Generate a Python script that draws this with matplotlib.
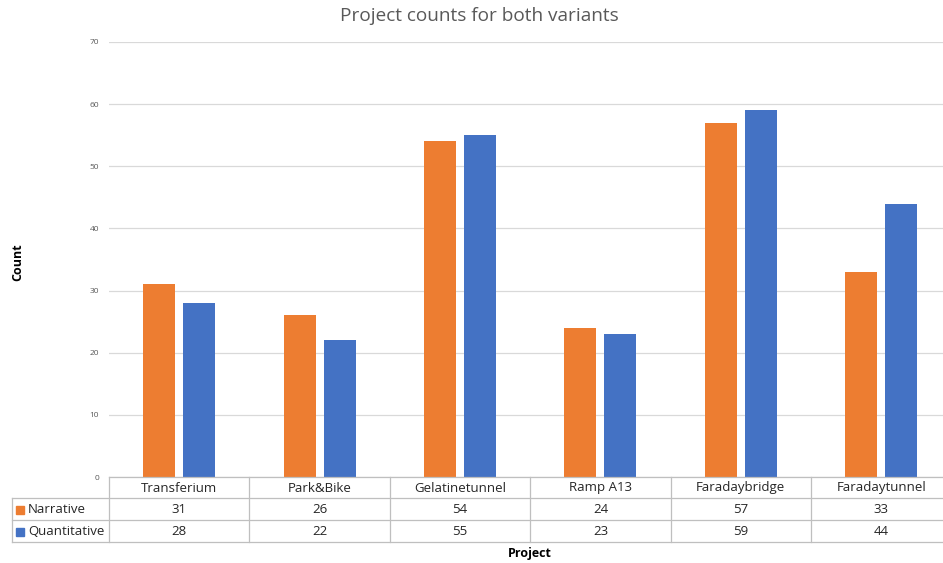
import numpy as np
import matplotlib
matplotlib.use('Agg')
import matplotlib.pyplot as plt

### data ----

projects = ['Transferium', 'Park&Bike', 'Gelatinetunnel', 'Ramp A13',
            'Faradaybridge', 'Faradaytunnel']
narrative = [31, 26, 54, 24, 57, 33]
quantitative = [28, 22, 55, 23, 59, 44]
series_names = ['Narrative', 'Quantitative']
colors = ['#ED7D31', '#4472C4']

plt.rcParams['font.family'] = ['Open Sans', 'DejaVu Sans']

W, H = 943, 563
cell_w = 140.4
x_left = 109
x_right = x_left + cell_w * len(projects)  # runs a bit past the image edge

fig = plt.figure(figsize=(W / 100, H / 100), dpi=100)
ax = fig.add_axes([x_left / W, 1 - 477 / H, (x_right - x_left) / W, (477 - 42) / H])

x = np.arange(len(projects))
bw = 0.228
ax.bar(x - 0.1425, narrative, width=bw, color=colors[0], zorder=3)
ax.bar(x + 0.1425, quantitative, width=bw, color=colors[1], zorder=3)

ax.set_xlim(-0.5, len(projects) - 0.5)
ax.set_ylim(0, 70)
ax.set_yticks(range(0, 71, 10))
ax.tick_params(axis='y', labelsize=6, labelcolor='#595959', length=0, pad=7)
ax.set_xticks([])
ax.grid(axis='y', color='#D9D9D9', linewidth=0.9, zorder=0)
for s in ax.spines.values():
    s.set_visible(False)

### data table ----

line_c = '#BFBFBF'

def fx(px):
    return px / W

# horizontal lines (figure coords)
for yy in [477, 498, 520, 542]:
    x0 = x_left if yy == 477 else 12
    fig.add_artist(plt.Line2D([fx(x0), fx(x_right)], [1 - yy / H, 1 - yy / H],
                              color=line_c, lw=0.9))
# vertical lines
for i in range(len(projects) + 1):
    xp = x_left + i * cell_w
    fig.add_artist(plt.Line2D([fx(xp), fx(xp)], [1 - 477 / H, 1 - 542 / H],
                              color=line_c, lw=0.9))
fig.add_artist(plt.Line2D([fx(12), fx(12)], [1 - 498 / H, 1 - 542 / H],
                          color=line_c, lw=0.9))

for i, p in enumerate(projects):
    cx = fx(x_left + (i + 0.5) * cell_w)
    fig.text(cx, 1 - 488 / H, p, ha='center', va='center', fontsize=9.5, color='#262626')
    fig.text(cx, 1 - 509.5 / H, str(narrative[i]), ha='center', va='center',
             fontsize=9.5, color='#262626')
    fig.text(cx, 1 - 531.5 / H, str(quantitative[i]), ha='center', va='center',
             fontsize=9.5, color='#262626')

for j, (name, c) in enumerate(zip(series_names, colors)):
    yc = 1 - (509.5 + 22 * j) / H
    fig.patches.append(plt.Rectangle((fx(16), yc - 4 / H), 8 / W, 8 / H,
                                     transform=fig.transFigure, color=c, figure=fig))
    fig.text(fx(28), yc, name, ha='left', va='center', fontsize=9.5, color='#262626')

### labels ----

fig.text(fx(479), 1 - 16 / H, 'Project counts for both variants', ha='center',
         va='center', fontsize=13.7, color='#595959')
fig.text(fx(18), 1 - 262 / H, 'Count', rotation=90, ha='center', va='center',
         fontsize=9, fontweight='bold', color='black')
fig.text(fx(530), 1 - 554 / H, 'Project', ha='center', va='center',
         fontsize=9, fontweight='bold', color='black')

fig.savefig('out.png', dpi=100)
